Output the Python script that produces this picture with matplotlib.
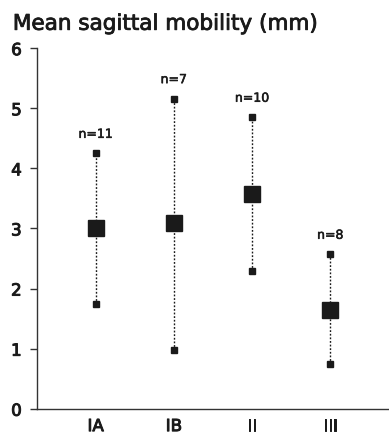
import matplotlib
matplotlib.use("Agg")
import matplotlib.pyplot as plt
import matplotlib.patheffects as pe

categories = ["IA", "IB", "II", "III"]
means = [3.01, 3.09, 3.57, 1.65]
upper = [4.25, 5.16, 4.85, 2.57]
lower = [1.74, 0.97, 2.29, 0.74]
n_labels = ["n=11", "n=7", "n=10", "n=8"]
yticks = [0, 1, 2, 3, 4, 5, 6]

plt.rcParams['font.family'] = ['DejaVu Sans']
ink = '#1a1a1a'

def thick(w):
    return [pe.withStroke(linewidth=w, foreground=ink)]

fig = plt.figure(figsize=(3.89, 4.35), dpi=100)
ax = fig.add_axes([0.095, 0.058, 0.905, 0.829])

x = list(range(1, len(categories) + 1))
for xi, m, u, l, nl in zip(x, means, upper, lower, n_labels):
    ax.plot([xi, xi], [l, u], color=ink, lw=1.0, ls=(0, (1.3, 1.3)), zorder=1)
    ax.annotate(nl, (xi, u), xytext=(0, 9), textcoords='offset points',
                ha='center', va='bottom', fontsize=9, color=ink,
                path_effects=thick(0.4))
ax.plot(x, upper, 's', color=ink, ms=5, ls='none', zorder=2)
ax.plot(x, lower, 's', color=ink, ms=5, ls='none', zorder=2)
ax.plot(x, means, 's', color=ink, ms=11, ls='none', zorder=3)

ax.set_xlim(0.25, 4.75)
ax.set_ylim(0, 6)
ax.set_yticks(yticks)
ax.set_yticklabels([str(t) for t in yticks], fontsize=12, color=ink)
ax.set_xticks(x)
ax.set_xticklabels(categories, fontsize=12, color=ink)
for t in ax.get_yticklabels() + ax.get_xticklabels():
    t.set_path_effects(thick(0.7))
ax.tick_params(axis='x', length=0, pad=6)
ax.tick_params(axis='y', length=5, width=1, direction='out', pad=6, color='#333333')
for s in ['top', 'right']:
    ax.spines[s].set_visible(False)
for s in ['left', 'bottom']:
    ax.spines[s].set_linewidth(1.0)
    ax.spines[s].set_color('#333333')

fig.text(0.033, 0.966, "Mean sagittal mobility (mm)", fontsize=15.5, fontweight='normal',
         color=ink, ha='left', va='top', path_effects=thick(0.6))

fig.savefig("out.png", dpi=100)
